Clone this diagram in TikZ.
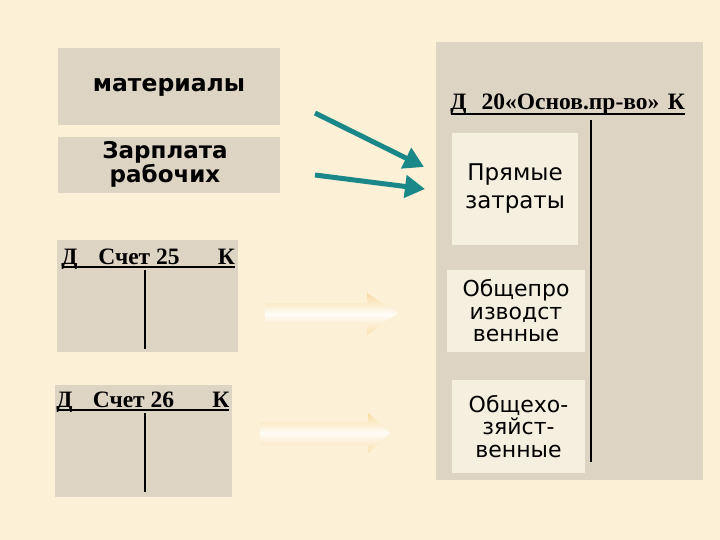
\documentclass[tikz,border=0pt]{standalone}
\usepackage{fontspec}
\setmainfont{Liberation Serif}
\newfontfamily\vsans{DejaVu Sans}
\usetikzlibrary{arrows.meta}
\definecolor{bgc}{HTML}{FCF0D6}
\definecolor{greyc}{HTML}{DDD4C4}
\definecolor{lightc}{HTML}{F4EFDF}
\definecolor{tealc}{HTML}{1A8888}
\definecolor{orc}{HTML}{F6C66E}
\begin{document}
\begin{tikzpicture}[x=1pt,y=-1pt,
  greybox/.style={fill=greyc,draw=none,inner sep=0pt},
  lightbox/.style={fill=lightc,draw=none,inner sep=0pt,align=center},
  hdr/.style={anchor=base,inner sep=0pt,font=\fontsize{23.5}{23.5}\selectfont\bfseries},
  tline/.style={line width=2.4pt,black},
  uline/.style={line width=1.3pt,black},
  tealarrow/.style={line width=5pt,tealc,-{Triangle[length=20pt,width=22pt]}},
  fadearrow/.style={top color=orc!50!bgc,bottom color=orc!40!bgc,middle color=white!80!bgc}
]
\useasboundingbox (0,0) rectangle (720,540);
\fill[bgc] (0,0) rectangle (720,540);

% left top boxes
\node[greybox,minimum width=222pt,minimum height=77pt] (mat) at (169,86.5) {};
\node[font=\vsans\bfseries\fontsize{23.5}{23.5}\selectfont] (matt) at (169,87) {материалы};
\node[greybox,minimum width=222pt,minimum height=56pt] (zp) at (169,165) {};
\node[font=\vsans\bfseries\fontsize{23}{22}\selectfont,align=center] (zpt) at (165,164) {Зарплата\\рабочих};

% account 25
\node[greybox,minimum width=181pt,minimum height=112pt] (s25) at (147.5,296) {};
\node[hdr] (s25d) at (69.5,264) {Д};
\node[hdr] (s25n) at (139,264) {Счет 25};
\node[hdr] (s25k) at (226.5,264) {К};
\coordinate (s25l) at (62,267);
\coordinate (s25r) at (235,267);
\draw[uline] (s25l) -- (s25r);
\coordinate (s25t) at (145,270);
\coordinate (s25b) at (145,349);
\draw[tline] (s25t) -- (s25b);

% account 26
\node[greybox,minimum width=177pt,minimum height=112pt] (s26) at (143.5,441) {};
\node[hdr] (s26d) at (64.5,407) {Д};
\node[hdr] (s26n) at (133.5,407) {Счет 26};
\node[hdr] (s26k) at (221,407) {К};
\coordinate (s26l) at (57,410);
\coordinate (s26r) at (229,410);
\draw[uline] (s26l) -- (s26r);
\coordinate (s26t) at (145,413);
\coordinate (s26b) at (145,492);
\draw[tline] (s26t) -- (s26b);

% account 20
\node[greybox,minimum width=267pt,minimum height=438pt] (s20) at (569.5,261) {};
\node[hdr] (s20d) at (458.5,110) {Д};
\node[hdr] (s20n) at (570.5,110) {20«Основ.пр-во»};
\node[hdr] (s20k) at (676.5,110) {К};
\coordinate (s20l) at (451,114);
\coordinate (s20r) at (685,114);
\draw[uline] (s20l) -- (s20r);
\coordinate (s20t) at (591,120);
\coordinate (s20b) at (591,462);
\draw[tline] (s20t) -- (s20b);

\node[lightbox,minimum width=126pt,minimum height=112pt,font=\vsans\fontsize{23}{28}\selectfont] (pz) at (515,189) {Прямые\\затраты};
\node[lightbox,minimum width=138pt,minimum height=82pt,font=\vsans\fontsize{22}{22.5}\selectfont] (op) at (516,311) {Общепро\\изводст\\венные};
\node[lightbox,minimum width=133pt,minimum height=93pt,font=\vsans\fontsize{22}{22.5}\selectfont] (ox) at (518.5,426.5) {Общехо-\\зяйст-\\венные};

% teal arrows
\coordinate (a1s) at (315,113);
\coordinate (a1e) at (424,167);
\coordinate (a2s) at (315,175);
\coordinate (a2e) at (425,189);
\draw[tealarrow] (a1s) -- (a1e);
\draw[tealarrow] (a2s) -- (a2e);

% faint arrows
\shade[fadearrow] (265,303) -- (367,303) -- (367,293) -- (398,313) -- (367,335) -- (367,322) -- (265,322) -- cycle;
\shade[fadearrow] (260,422) -- (368,422) -- (368,413) -- (390,433) -- (368,453) -- (368,445) -- (260,445) -- cycle;
\end{tikzpicture}
\end{document}
